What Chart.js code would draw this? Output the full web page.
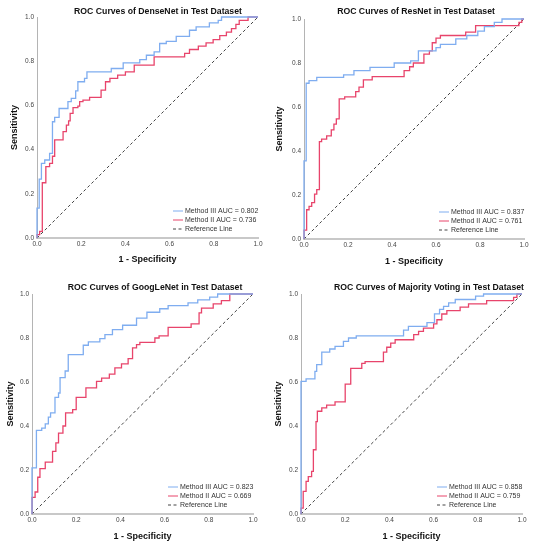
<!DOCTYPE html>
<html>
<head>
<meta charset="utf-8">
<script src="https://cdn.jsdelivr.net/npm/chart.js@4/dist/chart.umd.min.js"></script>
<style>
  body { margin: 0; background: #fff; }
  .panel { position: absolute; width: 267px; height: 275px; }
</style>
</head>
<body>
<div class="panel" style="left:0;top:0"><canvas id="c0" width="267" height="275"></canvas></div>
<div class="panel" style="left:267px;top:0"><canvas id="c1" width="267" height="275"></canvas></div>
<div class="panel" style="left:0;top:275px"><canvas id="c2" width="267" height="275"></canvas></div>
<div class="panel" style="left:267px;top:275px"><canvas id="c3" width="267" height="275"></canvas></div>
<script>
// models and AUC values
const models = ['DenseNet', 'ResNet', 'GoogLeNet', 'Majority Voting'];
const aucIII = [0.802, 0.837, 0.823, 0.858];
const aucII = [0.736, 0.761, 0.669, 0.759];
const tickVals = [0, 0.2, 0.4, 0.6, 0.8, 1.0];

// ROC points (1 - specificity, sensitivity)
const denseIIIFpr = [0, 0, 0.01, 0.02, 0.035, 0.057, 0.07, 0.08, 0.1, 0.14, 0.155, 0.175, 0.185, 0.215, 0.226, 0.336, 0.39, 0.465, 0.495, 0.53, 0.555, 0.585, 0.63, 0.69, 0.72, 0.78, 0.82, 0.835, 1];
const denseIIITpr = [0, 0.135, 0.266, 0.338, 0.353, 0.383, 0.526, 0.546, 0.586, 0.617, 0.632, 0.666, 0.707, 0.722, 0.752, 0.767, 0.792, 0.807, 0.827, 0.842, 0.88, 0.89, 0.912, 0.94, 0.955, 0.973, 0.985, 1, 1];
const denseIIFpr = [0, 0, 0.012, 0.024, 0.04, 0.057, 0.07, 0.08, 0.118, 0.133, 0.143, 0.15, 0.163, 0.185, 0.193, 0.208, 0.238, 0.29, 0.31, 0.33, 0.365, 0.4, 0.44, 0.53, 0.668, 0.69, 0.73, 0.765, 0.797, 0.827, 0.857, 0.88, 0.9, 0.915, 0.955, 1];
const denseIITpr = [0, 0.015, 0.03, 0.25, 0.323, 0.338, 0.37, 0.444, 0.481, 0.511, 0.53, 0.564, 0.59, 0.597, 0.617, 0.624, 0.636, 0.669, 0.707, 0.722, 0.737, 0.752, 0.782, 0.82, 0.835, 0.853, 0.868, 0.883, 0.898, 0.916, 0.932, 0.947, 0.967, 0.985, 1, 1];

const resIIIFpr = [0, 0, 0.01, 0.023, 0.058, 0.18, 0.227, 0.3, 0.41, 0.485, 0.52, 0.6, 0.62, 0.69, 0.74, 0.79, 0.82, 0.865, 0.9, 1];
const resIIITpr = [0, 0.355, 0.708, 0.72, 0.735, 0.746, 0.765, 0.78, 0.8, 0.81, 0.855, 0.87, 0.885, 0.91, 0.925, 0.945, 0.965, 0.985, 1, 1];
const resIIFpr = [0, 0, 0.012, 0.023, 0.035, 0.048, 0.058, 0.07, 0.08, 0.103, 0.124, 0.136, 0.147, 0.16, 0.185, 0.235, 0.25, 0.27, 0.31, 0.455, 0.48, 0.497, 0.545, 0.57, 0.583, 0.6, 0.62, 0.735, 0.78, 0.977, 0.99, 1];
const resIITpr = [0, 0.04, 0.133, 0.148, 0.165, 0.204, 0.224, 0.443, 0.454, 0.469, 0.496, 0.522, 0.546, 0.637, 0.646, 0.67, 0.69, 0.723, 0.738, 0.765, 0.783, 0.8, 0.84, 0.855, 0.892, 0.913, 0.925, 0.94, 0.97, 0.985, 1, 1];

const googIIIFpr = [0, 0, 0.02, 0.044, 0.06, 0.074, 0.084, 0.104, 0.12, 0.127, 0.15, 0.164, 0.232, 0.255, 0.307, 0.33, 0.364, 0.41, 0.473, 0.52, 0.578, 0.616, 0.706, 0.75, 0.804, 0.84, 1];
const googIIITpr = [0, 0.21, 0.38, 0.39, 0.41, 0.44, 0.46, 0.53, 0.55, 0.62, 0.65, 0.724, 0.767, 0.782, 0.797, 0.815, 0.838, 0.858, 0.89, 0.917, 0.933, 0.947, 0.96, 0.973, 0.986, 1, 1];
const googIIFpr = [0, 0, 0.014, 0.026, 0.036, 0.06, 0.093, 0.108, 0.12, 0.14, 0.152, 0.184, 0.2, 0.244, 0.292, 0.315, 0.35, 0.375, 0.405, 0.435, 0.455, 0.473, 0.488, 0.556, 0.575, 0.616, 0.72, 0.756, 0.767, 0.82, 0.857, 0.895, 1];
const googIITpr = [0, 0.076, 0.1, 0.167, 0.206, 0.236, 0.285, 0.323, 0.368, 0.4, 0.46, 0.474, 0.53, 0.573, 0.603, 0.618, 0.636, 0.664, 0.682, 0.706, 0.755, 0.77, 0.78, 0.8, 0.81, 0.848, 0.864, 0.914, 0.936, 0.955, 0.97, 1, 1];

const voteIIIFpr = [0, 0, 0.023, 0.063, 0.071, 0.094, 0.13, 0.154, 0.192, 0.215, 0.25, 0.464, 0.486, 0.57, 0.604, 0.627, 0.645, 0.668, 0.698, 0.79, 0.826, 1];
const voteIIITpr = [0, 0.603, 0.614, 0.648, 0.679, 0.736, 0.75, 0.762, 0.785, 0.8, 0.81, 0.836, 0.853, 0.87, 0.91, 0.93, 0.944, 0.96, 0.975, 0.99, 1, 1];
const voteIIFpr = [0, 0, 0.01, 0.023, 0.033, 0.048, 0.056, 0.068, 0.074, 0.094, 0.116, 0.154, 0.2, 0.225, 0.275, 0.29, 0.373, 0.388, 0.406, 0.426, 0.51, 0.532, 0.554, 0.6, 0.615, 0.637, 0.66, 0.72, 0.758, 0.84, 0.962, 0.977, 1];
const voteIITpr = [0, 0.027, 0.103, 0.148, 0.17, 0.194, 0.292, 0.42, 0.467, 0.482, 0.495, 0.51, 0.59, 0.662, 0.685, 0.693, 0.736, 0.758, 0.777, 0.792, 0.815, 0.83, 0.845, 0.864, 0.883, 0.909, 0.924, 0.94, 0.955, 0.97, 0.985, 1, 1];

const curvesIII = [[denseIIIFpr, denseIIITpr], [resIIIFpr, resIIITpr], [googIIIFpr, googIIITpr], [voteIIIFpr, voteIIITpr]];
const curvesII = [[denseIIFpr, denseIITpr], [resIIFpr, resIITpr], [googIIFpr, googIITpr], [voteIIFpr, voteIITpr]];
const refLine = [0, 1];

// panel geometry inside each 267x275 canvas
const boxes = [
  { l: 37, r: 258, t: 17, b: 238, tx: 158, ty: 12, yt: 14.5, xt: 260 },
  { l: 37, r: 257, t: 19, b: 239, tx: 149, ty: 12, yt: 13, xt: 262 },
  { l: 32, r: 253, t: 19, b: 239, tx: 155, ty: 13, yt: 11, xt: 262 },
  { l: 34, r: 255, t: 19, b: 239, tx: 162, ty: 13, yt: 12, xt: 262 }
];

const FONT = '"Liberation Sans", Arial, sans-serif';
Chart.defaults.font.family = FONT;

const toPts = (xs, ys) => xs.map((x, i) => ({ x: x, y: ys[i] }));

// title + legend drawn inside the plot area
const decor = {
  id: 'decor',
  afterDraw(chart, args, opts) {
    const ctx = chart.ctx, a = chart.chartArea;
    ctx.save();
    ctx.fillStyle = '#111';
    ctx.font = 'bold 8.7px ' + FONT;
    ctx.textAlign = 'center';
    ctx.textBaseline = 'middle';
    ctx.fillText(opts.title, opts.x, opts.y);

    ctx.font = '7px ' + FONT;
    ctx.textAlign = 'left';
    chart.data.datasets.forEach((ds, i) => {
      const y = a.bottom - 27 + i * 9;
      ctx.strokeStyle = ds.borderColor;
      ctx.lineWidth = 1;
      ctx.setLineDash(ds.borderDash || []);
      ctx.beginPath();
      ctx.moveTo(a.right - 85, y);
      ctx.lineTo(a.right - 75, y);
      ctx.stroke();
      ctx.setLineDash([]);
      ctx.fillStyle = '#333';
      ctx.fillText(ds.label, a.right - 73, y);
    });
    ctx.restore();
  }
};

models.forEach((m, k) => {
  const bx = boxes[k];
  new Chart(document.getElementById('c' + k), {
    type: 'scatter',
    data: {
      datasets: [
        {
          label: 'Method III AUC = ' + aucIII[k].toFixed(3),
          data: toPts(curvesIII[k][0], curvesIII[k][1]),
          showLine: true, stepped: 'before',
          borderColor: '#7fadf0', borderWidth: 1.3,
          pointRadius: 0, clip: 3
        },
        {
          label: 'Method II AUC = ' + aucII[k].toFixed(3),
          data: toPts(curvesII[k][0], curvesII[k][1]),
          showLine: true, stepped: 'before',
          borderColor: '#e8446b', borderWidth: 1.3,
          pointRadius: 0, clip: 3
        },
        {
          label: 'Reference Line',
          data: toPts(refLine, refLine),
          showLine: true,
          borderColor: '#444', borderWidth: 1, borderDash: [3, 2.5],
          pointRadius: 0
        }
      ]
    },
    options: {
      responsive: false,
      animation: false,
      layout: { padding: { left: 0, top: bx.t, right: 267 - bx.r, bottom: 0 } },
      plugins: {
        legend: { display: false },
        tooltip: { enabled: false },
        decor: { title: 'ROC Curves of ' + m + ' in Test Dataset', x: bx.tx, y: bx.ty }
      },
      scales: {
        x: {
          type: 'linear', min: 0, max: 1,
          afterBuildTicks: s => { s.ticks = tickVals.map(v => ({ value: v })); },
          afterFit: s => { s.height = 275 - bx.b; },
          grid: { display: false, drawTicks: false },
          border: { display: true, color: '#c8c8c8', width: 2 },
          ticks: { padding: 2, color: '#444', font: { size: 6.5 }, maxRotation: 0,
                   callback: v => v.toFixed(1) },
          title: { display: true, text: '1 - Specificity', color: '#111',
                   font: { size: 9, weight: 'bold' },
                   padding: { top: 0, bottom: 275 - bx.xt - 5.4 } }
        },
        y: {
          type: 'linear', min: 0, max: 1,
          afterBuildTicks: s => { s.ticks = tickVals.map(v => ({ value: v })); },
          afterFit: s => { s.width = bx.l; },
          grid: { display: false, drawTicks: false },
          border: { display: true, color: '#b4b4b4', width: 1 },
          ticks: { padding: 3, color: '#444', font: { size: 6.5 },
                   callback: v => v.toFixed(1) },
          title: { display: true, text: 'Sensitivity', color: '#111',
                   font: { size: 9, weight: 'bold' },
                   padding: { top: bx.yt - 5.4, bottom: 0 } }
        }
      }
    },
    plugins: [decor]
  });
});
</script>
</body>
</html>
